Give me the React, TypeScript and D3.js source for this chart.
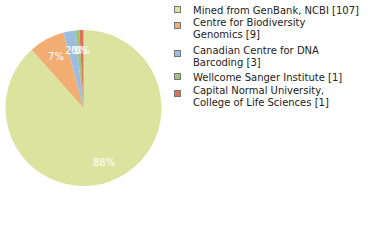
import React from "react";
import * as d3 from "d3";

const categories = [
  "Mined from GenBank, NCBI [107]",
  "Centre for Biodiversity Genomics [9]",
  "Canadian Centre for DNA Barcoding [3]",
  "Wellcome Sanger Institute [1]",
  "Capital Normal University, College of Life Sciences [1]",
];
const legendLines = [
  ["Mined from GenBank, NCBI [107]"],
  ["Centre for Biodiversity", "Genomics [9]"],
  ["Canadian Centre for DNA", "Barcoding [3]"],
  ["Wellcome Sanger Institute [1]"],
  ["Capital Normal University,", "College of Life Sciences [1]"],
];
const values = [107, 9, 3, 1, 1];
const colors = ["#dce39f", "#f1ad72", "#9dbde0", "#9cc57a", "#e0705a"];

export default function App() {
  const cx = 83.5, cy = 108, r = 78;
  const total = d3.sum(values);
  const pie = d3.pie<number>().sort(null).value((d) => d)(values);
  const arc = d3.arc<d3.PieArcDatum<number>>().innerRadius(0).outerRadius(r);
  const labelArc = d3.arc<d3.PieArcDatum<number>>().innerRadius(58).outerRadius(58);
  const legendY = [10, 26, 54, 77, 94];
  const font = "DejaVu Sans, Verdana, sans-serif";
  return (
    <svg width={380} height={240} style={{ position: "absolute", left: 0, top: 0 }}>
      <rect width={380} height={240} fill="#fff" />
      <g transform={`translate(${cx},${cy})`}>
        {pie.map((p, i) => (
          <path key={i} d={arc(p) || ""} fill={colors[i]} />
        ))}
        {pie.map((p, i) => {
          const [x, y] = labelArc.centroid(p);
          return (
            <text key={i} x={x} y={y} dy="0.35em" textAnchor="middle" fill="#fff" fontSize={10} fontFamily={font}>
              {Math.floor((values[i] / total) * 100) + "%"}
            </text>
          );
        })}
      </g>
      <g>
        {legendLines.map((lines, i) => {
          const n = lines.length;
          const sy = legendY[i];
          const firstBase = n === 1 ? sy + 3.5 : sy - 0;
          return (
            <g key={i}>
              <rect x={174.5} y={sy - 3.5} width={6} height={6} fill={colors[i]} stroke="#777" strokeWidth={1} />
              {lines.map((l, j) => (
                <text key={j} x={193} y={firstBase + j * 12} fontSize={10} fontFamily={font} fill="#222">
                  {l}
                </text>
              ))}
            </g>
          );
        })}
      </g>
    </svg>
  );
}
